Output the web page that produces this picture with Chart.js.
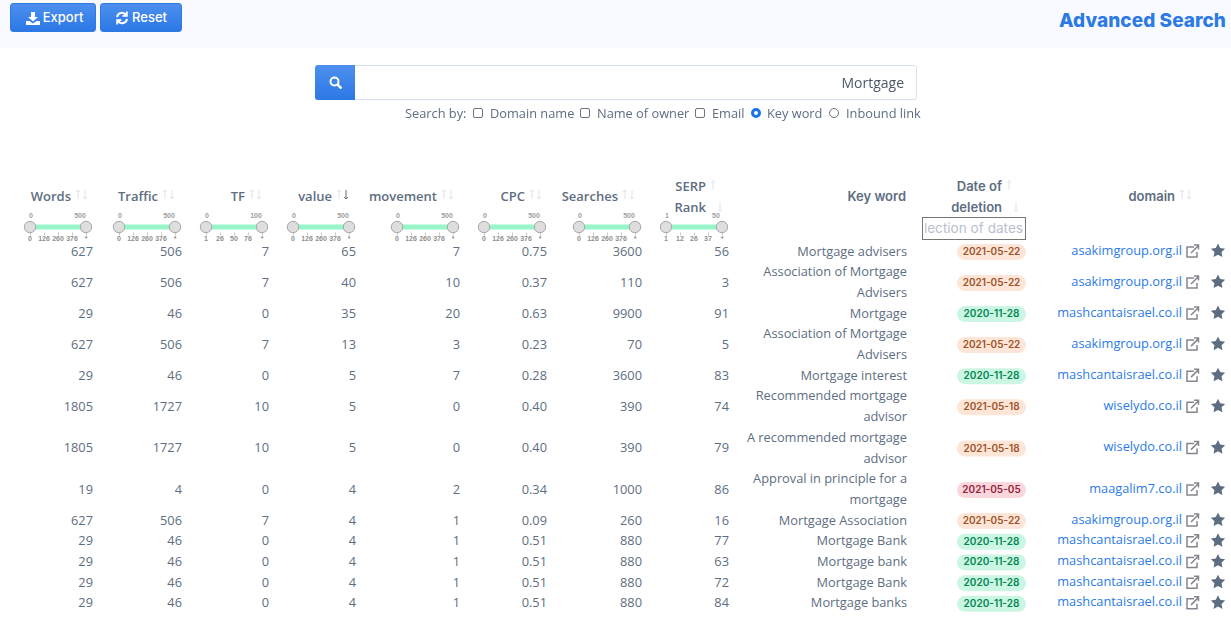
<!DOCTYPE html>
<html>
<head>
<meta charset="utf-8">
<title>Advanced Search</title>
<script src="https://cdn.jsdelivr.net/npm/chart.js@4"></script>
<style>
html, body { margin: 0; padding: 0; background: #fff; overflow: hidden; }
body { width: 1231px; height: 617px; position: relative; font-family: "Open Sans", sans-serif; font-size: 12.8px; color: #5e6e82; }
#myChart { position: absolute; left: 0; top: 0; }
.band { position: absolute; left: 0; top: 0; width: 1231px; height: 48px; background: #f9faff; }
.btn { position: absolute; top: 3px; height: 29px; box-sizing: border-box; border-radius: 3px; color: #fff;
  background: linear-gradient(#4d8fee, #2c78e6); border: 1px solid #2f7be4; font: 500 13px/27px Inter, sans-serif;
  display: flex; align-items: center; justify-content: center; gap: 3px; }
.title { position: absolute; right: 5px; top: 9px; color: #2c7be5; font: 800 19px/24px Inter, sans-serif; letter-spacing: 0.05px; }
.sbtn { position: absolute; left: 315px; top: 65px; width: 40px; height: 35px; border-radius: 3px 0 0 3px;
  background: linear-gradient(#4d8fee, #2c78e6); display: flex; align-items: center; justify-content: center; }
.sinput { position: absolute; left: 355px; top: 65px; width: 562px; height: 35px; box-sizing: border-box; border: 1px solid #d8e2ef;
  border-left: 0; border-radius: 0 3px 3px 0; text-align: right; padding-right: 12px; line-height: 33px; color: #4d5969; font-size: 14px; }
.opt { position: absolute; top: 104px; line-height: 18px; white-space: nowrap; }
.cb { position: absolute; top: 108px; width: 10px; height: 10px; box-sizing: border-box; border: 1px solid #6b7280; border-radius: 2px; background: #fff; }
.rd { position: absolute; top: 108px; width: 10px; height: 10px; box-sizing: border-box; border: 1px solid #6b7280; border-radius: 50%; background: #fff; }
.rd.on { border: 3px solid #1a73e8; }
</style>
</head>
<body>
<canvas id="myChart" width="1231" height="617"></canvas>
<div class="band"></div>
<div class="btn" style="left:10px;width:86px;padding-left:3px">
  <svg width="14" height="14" viewBox="0 0 14 14" fill="#fff"><path d="M5 1h4v5h3L7 10.500 2 6h3zM0 10h3.500L7 12.500 10.500 10H14v4H0z"/></svg>Export</div>
<div class="btn" style="left:100px;width:82px">
  <svg width="14" height="14" viewBox="0 0 14 14" fill="none" stroke="#fff" stroke-width="2"><path d="M2 6a5 5 0 0 1 9-2M12 8a5 5 0 0 1-9 2"/><path d="M12 0.500v4.500H7.500M2 13.500V9h4.500" stroke-width="1.500" fill="#fff"/></svg>Reset</div>
<div class="title">Advanced Search</div>
<div class="sbtn"><svg width="13" height="13" viewBox="0 0 13 13" fill="none" stroke="#fff" stroke-width="2"><circle cx="5.500" cy="5.500" r="4"/><path d="M8.500 8.500l4 4" stroke-width="2.500"/></svg></div>
<div class="sinput">Mortgage</div>
<span class="opt" style="left:405px">Search by:</span>
<i class="cb" style="left:473px"></i><span class="opt" style="left:490px">Domain name</span>
<i class="cb" style="left:580px"></i><span class="opt" style="left:597px">Name of owner</span>
<i class="cb" style="left:695px"></i><span class="opt" style="left:712px">Email</span>
<i class="rd on" style="left:751px"></i><span class="opt" style="left:767px">Key word</span>
<i class="rd" style="left:829px"></i><span class="opt" style="left:846px">Inbound link</span>
<script>
// table rows
const words = [627, 627, 29, 627, 29, 1805, 1805, 19, 627, 29, 29, 29, 29];
const traffic = [506, 506, 46, 506, 46, 1727, 1727, 4, 506, 46, 46, 46, 46];
const tf = [7, 7, 0, 7, 0, 10, 10, 0, 7, 0, 0, 0, 0];
const value = [65, 40, 35, 13, 5, 5, 5, 4, 4, 4, 4, 4, 4];
const movement = [7, 10, 20, 3, 7, 0, 0, 2, 1, 1, 1, 1, 1];
const cpc = ['0.75', '0.37', '0.63', '0.23', '0.28', '0.40', '0.40', '0.34', '0.09', '0.51', '0.51', '0.51', '0.51'];
const searches = [3600, 110, 9900, 70, 3600, 390, 390, 1000, 260, 880, 880, 880, 880];
const rank = [56, 3, 91, 5, 83, 74, 79, 86, 16, 77, 63, 72, 84];
const keywords = ['Mortgage advisers', 'Association of Mortgage\nAdvisers', 'Mortgage', 'Association of Mortgage\nAdvisers',
    'Mortgage interest', 'Recommended mortgage\nadvisor', 'A recommended mortgage\nadvisor', 'Approval in principle for a\nmortgage',
    'Mortgage Association', 'Mortgage Bank', 'Mortgage bank', 'Mortgage Bank', 'Mortgage banks'];
const dates = ['2021-05-22', '2021-05-22', '2020-11-28', '2021-05-22', '2020-11-28', '2021-05-18', '2021-05-18', '2021-05-05',
    '2021-05-22', '2020-11-28', '2020-11-28', '2020-11-28', '2020-11-28'];
const domains = ['asakimgroup.org.il', 'asakimgroup.org.il', 'mashcantaisrael.co.il', 'asakimgroup.org.il', 'mashcantaisrael.co.il',
    'wiselydo.co.il', 'wiselydo.co.il', 'maagalim7.co.il', 'asakimgroup.org.il', 'mashcantaisrael.co.il', 'mashcantaisrael.co.il',
    'mashcantaisrael.co.il', 'mashcantaisrael.co.il'];

// filter sliders above the numeric columns
const sliderMax = ['500', '500', '100', '500', '500', '500', '500', '50'];
const sliderMin = ['0', '0', '0', '0', '0', '0', '0', '1'];
const sliderTicks = [
    ['0', '126', '260', '376', '*'], ['0', '126', '260', '376', '*'], ['1', '26', '50', '76', '*'], ['0', '126', '260', '376', '*'],
    ['0', '126', '260', '376', '*'], ['0', '126', '260', '376', '*'], ['0', '126', '260', '376', '*'], ['1', '12', '26', '37', '*']
];

// layout only: column widths and header text
const colWidths = [93, 89, 87, 87, 104, 87, 95, 87, 178, 119, 156, 36];
const headers = ['Words', 'Traffic', 'TF', 'value', 'movement', 'CPC', 'Searches', 'SERP\nRank', 'Key word', 'Date of\ndeletion', 'domain'];
const headerEnd = [71, 158, 245, 332, 437, 525, 618, 706, 906, 1002, 1175];

const columns = [words, traffic, tf, value, movement, cpc, searches, rank, keywords, dates, domains, domains];
const colEdges = colWidths.map((w, i) => colWidths.slice(0, i + 1).reduce((a, b) => a + b, 0));
const rowLines = keywords.map(k => k.split('\n').length);
const rowCenters = rowLines.map((n, i) => rowLines.slice(0, i).reduce((a, b) => a + b, 0) + n / 2);
const totalLines = rowLines.reduce((a, b) => a + b, 0);

const TEXT = '#5e6e82';
const badgeStyle = {
    '2021-05-22': ['#fde6d8', '#9d5228'], '2021-05-18': ['#fde6d8', '#9d5228'],
    '2020-11-28': ['#ccf6e4', '#00864e'], '2021-05-05': ['#fad7dd', '#932338']
};

function arrow(c, x, y, dir, col) {
    c.strokeStyle = col;
    c.lineWidth = 1;
    c.beginPath();
    c.moveTo(x, y - 4.5);
    c.lineTo(x, y + 4.5);
    c.moveTo(x - 2, y + dir * 2.5);
    c.lineTo(x, y + dir * 4.5);
    c.lineTo(x + 2, y + dir * 2.5);
    c.stroke();
}

function slider(c, i, right) {
    const x1 = right - 7, x0 = x1 - 56;
    c.fillStyle = '#98f5c8';
    c.fillRect(x0, 224.5, x1 - x0, 5);
    c.font = '700 7px "Liberation Sans"';
    c.textAlign = 'center';
    c.textBaseline = 'middle';
    c.fillStyle = '#a0a0a0';
    c.fillText(sliderMin[i], x0 + 1, 216);
    c.fillText(sliderMax[i], x1 - 6, 216);
    sliderTicks[i].forEach((t, k) => {
        const tx = x0 + k * 14;
        c.fillStyle = '#8f8f8f';
        c.fillText(t, tx, 239.5);
        c.fillStyle = '#c8c8c8';
        c.fillRect(Math.round(tx), 232.5, 1, 3);
    });
    [x0, x1].forEach(tx => {
        c.beginPath();
        c.arc(tx, 227, 5.7, 0, Math.PI * 2);
        c.fillStyle = '#dedede';
        c.fill();
        c.strokeStyle = '#a8a8a8';
        c.lineWidth = 1;
        c.stroke();
    });
}

function star(c, x, y, r) {
    c.beginPath();
    for (let k = 0; k < 10; k++) {
        const a = -Math.PI / 2 + k * Math.PI / 5, rr = k % 2 ? r * 0.5 : r;
        c.lineTo(x + rr * Math.cos(a), y + rr * Math.sin(a));
    }
    c.closePath();
    c.fillStyle = TEXT;
    c.fill();
}

function extLink(c, x, y) {
    c.strokeStyle = '#85858f';
    c.lineWidth = 1.5;
    c.beginPath();
    c.moveTo(x + 2, y - 4);
    c.lineTo(x - 5, y - 4);
    c.lineTo(x - 5, y + 6);
    c.lineTo(x + 5, y + 6);
    c.lineTo(x + 5, y + 1);
    c.moveTo(x - 1, y + 2);
    c.lineTo(x + 6, y - 5);
    c.moveTo(x + 2, y - 6);
    c.lineTo(x + 6.500, y - 6);
    c.lineTo(x + 6.500, y - 1.500);
    c.stroke();
}

function pill(c, x, y, w, h) {
    c.beginPath();
    c.roundRect(x, y, w, h, h / 2);
    c.fill();
}

// draws the header plus each cell at the point the scatter dataset placed
const tablePlugin = {
    id: 'tablePlugin',
    beforeDraw(chart) {
        // canvas is opaque so the text gets the same smoothing as page text
        chart.ctx.fillStyle = '#fff';
        chart.ctx.fillRect(0, 0, chart.width, chart.height);
    },
    afterDatasetsDraw(chart) {
        const c = chart.ctx;
        const lineH = chart.scales.y.getPixelForValue(1) - chart.scales.y.getPixelForValue(0);
        c.save();

        headers.forEach((h, i) => {
            const parts = h.split('\n');
            parts.forEach((p, k) => {
                const y = parts.length > 1 ? 186 + k * 21 : 196;
                c.font = i >= 8 ? '600 13px Inter' : '600 13px "Open Sans"';
                c.fillStyle = TEXT;
                c.textAlign = 'right';
                c.textBaseline = 'middle';
                c.fillText(p, headerEnd[i], y + 1);
                if (parts.length > 1) {
                    const up = k === 0;
                    arrow(c, headerEnd[i] + (up ? 7 : 14), y - (up ? 1 : 0), up ? -1 : 1, '#dfe4ea');
                }
            });
            if (parts.length === 1 && h !== 'Key word') {
                arrow(c, headerEnd[i] + 7, 194.5, -1, '#dfe4ea');
                arrow(c, headerEnd[i] + 14, 194.5, 1, h === 'value' ? '#6f6a70' : '#dfe4ea');
            }
            if (i < 8) slider(c, i, colEdges[i]);
        });

        // date range input
        c.strokeStyle = '#767676';
        c.lineWidth = 1;
        c.strokeRect(922.5, 217.5, 103, 22);
        c.save();
        c.beginPath();
        c.rect(923, 218, 102, 21);
        c.clip();
        c.font = '400 13.6px Inter';
        c.fillStyle = '#b9bed0';
        c.textAlign = 'right';
        c.textBaseline = 'middle';
        c.fillText('lection of dates', 1023, 229);
        c.restore();

        chart.data.datasets.forEach((ds, di) => {
            chart.getDatasetMeta(di).data.forEach((pt, r) => {
                const cell = ds.cells[r];
                c.textBaseline = 'middle';
                c.textAlign = 'right';
                if (ds.kind === 'date') {
                    const st = badgeStyle[cell];
                    c.fillStyle = st[0];
                    pill(c, pt.x - 69, pt.y - 7, 69, 16);
                    c.fillStyle = st[1];
                    c.font = '600 10px Inter';
                    c.textAlign = 'center';
                    c.fillText(cell, pt.x - 34.5, pt.y + 1);
                } else if (ds.kind === 'star') {
                    star(c, pt.x, pt.y, 7.5);
                    extLink(c, colEdges[10] + 10, pt.y);
                } else if (ds.kind === 'link') {
                    c.fillStyle = '#2c7be5';
                    c.font = '400 12.8px "Open Sans"';
                    c.fillText(cell, pt.x, pt.y);
                } else {
                    c.fillStyle = TEXT;
                    c.font = '400 12.8px "Open Sans"';
                    const parts = String(cell).split('\n');
                    parts.forEach((p, k) => {
                        c.fillText(p, pt.x, pt.y + 1 + (k - (parts.length - 1) / 2) * lineH);
                    });
                }
            });
        });
        c.restore();
    }
};

const kinds = ['num', 'num', 'num', 'num', 'num', 'num', 'num', 'num', 'text', 'date', 'link', 'star'];
const ctx = document.getElementById('myChart').getContext('2d', { alpha: false });
const myChart = new Chart(ctx, {
    type: 'scatter',
    data: {
        datasets: columns.map((col, i) => ({
            kind: kinds[i],
            cells: col,
            data: col.map((_, r) => ({ x: colEdges[i], y: rowCenters[r] })),
            pointRadius: 0
        }))
    },
    options: {
        responsive: false,
        animation: false,
        devicePixelRatio: 1,
        events: [],
        layout: { padding: { top: 240.6, bottom: 3.8, left: 0, right: 0 } },
        plugins: { legend: { display: false }, tooltip: { enabled: false } },
        scales: {
            x: { type: 'linear', display: false, min: 0, max: 1231 },
            y: { type: 'linear', display: false, reverse: true, min: 0, max: totalLines }
        }
    },
    plugins: [tablePlugin]
});
</script>
</body>
</html>
